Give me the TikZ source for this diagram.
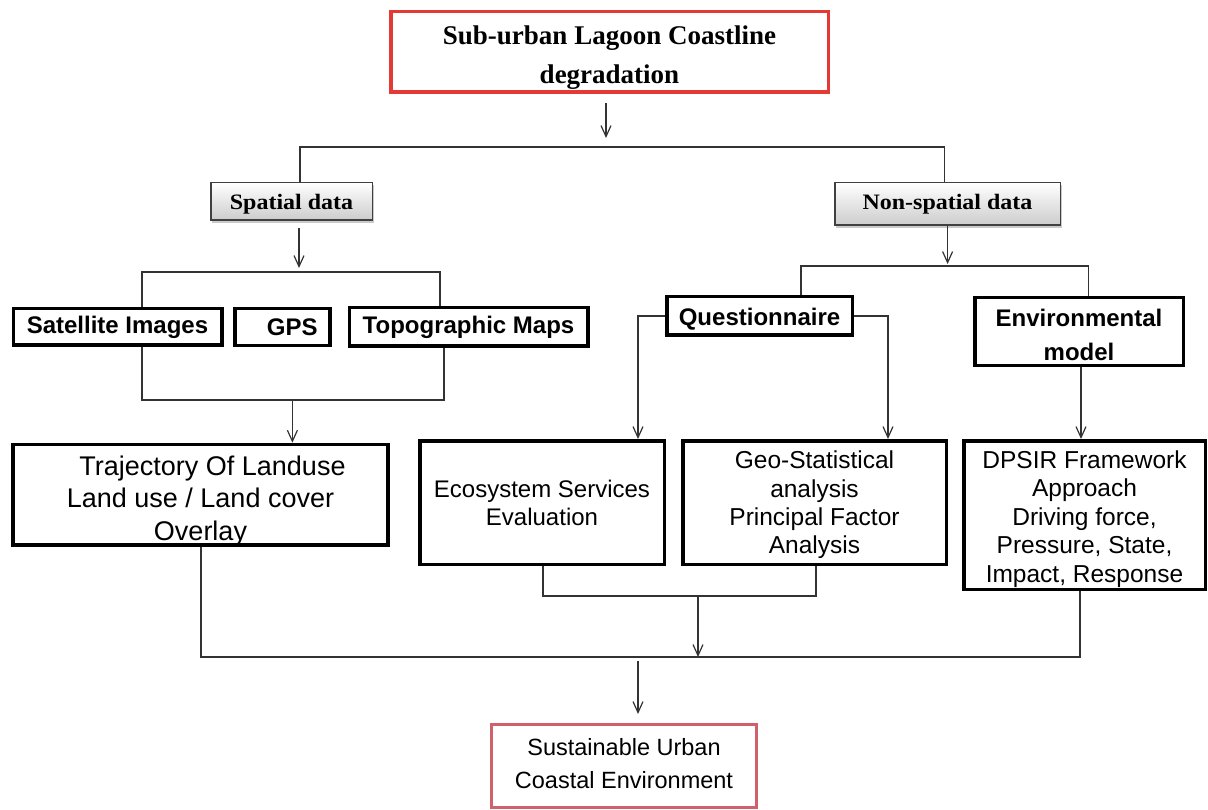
\documentclass[tikz,border=0pt]{standalone}
\usepackage{fontspec}
\setmainfont{Liberation Sans}
\newfontfamily\titlefont{Liberation Serif}
\newfontfamily\subtitlefont[FakeStretch=1.09]{Liberation Serif}
\usetikzlibrary{arrows.meta,shadows}
\definecolor{topred}{HTML}{E53935}
\definecolor{botred}{HTML}{D0606A}
\begin{document}
\begin{tikzpicture}[x=1pt,y=-1pt,
  conn/.style={line width=1.2pt,draw=black!80},
  arr/.style={conn,-{Straight Barb[length=11pt,width=10pt,line width=1.2pt]}},
  boxbase/.style={rectangle,inner sep=0pt,align=center,text=black},
  redbox/.style={boxbase,draw=topred,line width=3.5pt},
  endbox/.style={boxbase,draw=botred,line width=3pt,font={\fontsize{23.5}{33}\selectfont}},
  greybox/.style={boxbase,draw=black!75,line width=1.5pt,top color=white,bottom color=black!20,
     drop shadow={shadow xshift=1.5pt,shadow yshift=-2.5pt,opacity=.35,fill=black!60},
     font={\subtitlefont\bfseries\fontsize{22}{26}\selectfont}},
  heavybox/.style={boxbase,draw=black,line width=3.5pt,font={\bfseries\fontsize{24}{34}\selectfont}},
  textbox/.style={boxbase,draw=black,line width=3.5pt,font={\fontsize{24.5}{28.4}\selectfont}},
  inlabel/.style={align=center,inner sep=0pt,text=black}
]
\useasboundingbox (0,0) rectangle (1208,810);

% nodes
\node[redbox,minimum width=437.5,minimum height=80.5,
  label={[inlabel,yshift=-6pt,font={\titlefont\bfseries\fontsize{27}{39}\selectfont}]center:Sub-urban Lagoon Coastline\\degradation}]
  (top) at (609.5,52) {};
\node[greybox,minimum width=161.5,minimum height=37.5,
  label={[inlabel,yshift=-3pt,font={\subtitlefont\bfseries\fontsize{22}{26}\selectfont}]center:Spatial data}]
  (spatial) at (291.5,201.5) {};
\node[greybox,minimum width=225.5,minimum height=42.5] (nonspatial) at (947.5,204) {Non-spatial data};

\node[heavybox,minimum width=208.5,minimum height=36.5] (sat) at (117.5,327) {Satellite Images};
\node[heavybox,minimum width=95,minimum height=37] (gps) at (282.25,327.25) {\hspace*{20pt}GPS};
\node[heavybox,minimum width=238.5,minimum height=38.5] (topo) at (468.5,327) {Topographic Maps};

\node[textbox,minimum width=374.6,minimum height=100.5,
  label={[inlabel,yshift=-6pt,font={\fontsize{27}{32.5}\selectfont}]center:\hspace*{24pt}Trajectory Of Landuse\\Land use / Land cover\\Overlay}]
  (traj) at (200.5,494.7) {};

\node[heavybox,minimum width=185.5,minimum height=38.5,
  label={[inlabel,yshift=-3pt,font={\bfseries\fontsize{24}{34}\selectfont}]center:Questionnaire}]
  (quest) at (759.5,316) {};
\node[heavybox,minimum width=208.5,minimum height=68,
  label={[inlabel,yshift=-3pt,font={\bfseries\fontsize{24}{34}\selectfont}]center:Environmental\\model}]
  (env) at (1079,331.75) {};

\node[textbox,minimum width=244.5,minimum height=123.5,font={\fontsize{24}{28}\selectfont}]
  (eco) at (542,502.5) {Ecosystem Services\\Evaluation};
\node[textbox,minimum width=263.5,minimum height=123.5,
  label={[inlabel,yshift=-2.5pt,font={\fontsize{24.5}{28.4}\selectfont}]center:Geo-Statistical\\analysis\\Principal Factor\\Analysis}]
  (geo) at (814.5,502.5) {};
\node[textbox,minimum width=241.5,minimum height=148.5,
  label={[inlabel,yshift=-4pt,font={\fontsize{24.5}{28.4}\selectfont}]center:DPSIR Framework\\Approach\\Driving force,\\Pressure, State,\\Impact, Response}]
  (dpsir) at (1084.5,515) {};

\node[endbox,minimum width=265,minimum height=83,
  label={[inlabel,yshift=2.5pt,font={\fontsize{23.5}{33}\selectfont}]center:Sustainable Urban\\Coastal Environment}]
  (final) at (624,766) {};

% junction coordinates
\coordinate (a0s) at (606,103);
\coordinate (a0e) at (606,138);
\coordinate (j1L) at (300,147);
\coordinate (j1R) at (944.5,147);
\coordinate (s2) at (299,268);
\coordinate (j2L) at (142,272);
\coordinate (j2R) at (440,272);
\coordinate (j3L) at (142,400);
\coordinate (j3R) at (444,400);
\coordinate (j3M) at (292.4,400);
\coordinate (j4L) at (801,266);
\coordinate (j4R) at (1088.6,266);
\coordinate (j4M) at (947.6,264);
\coordinate (q1) at (638,316);
\coordinate (q2) at (888,316);
\coordinate (e1) at (1081,367);
\coordinate (j5L) at (543,596);
\coordinate (j5R) at (816,596);
\coordinate (j5M) at (698,596);
\coordinate (j6L) at (201,657);
\coordinate (j6R) at (1080,657);
\coordinate (j6M) at (698,657);
\coordinate (f0) at (638,661);
\coordinate (f1) at (638,714);

% connectors
\draw[arr] (a0s) -- (a0e);
\draw[conn] (j1L |- spatial.north) -- (j1L) -- (j1R) -- (j1R |- nonspatial.north);
\draw[arr,shorten <=7pt] (s2 |- spatial.south) -- (s2);
\draw[conn] (j2L |- sat.north) -- (j2L) -- (j2R) -- (j2R |- topo.north);
\draw[conn] (j3L |- sat.south) -- (j3L) -- (j3R) -- (j3R |- topo.south);
\draw[arr] (j3M) -- (j3M |- traj.north);

\draw[arr] (j4M |- nonspatial.south) -- (j4M);
\draw[conn] (j4L |- quest.north) -- (j4L) -- (j4R) -- (j4R |- env.north);
\draw[arr] (quest.west) -| (q1 |- eco.north);
\draw[arr] (quest.east) -| (q2 |- geo.north);
\draw[arr] (e1 |- env.south) -- (e1 |- dpsir.north);

\draw[conn] (j5L |- eco.south) -- (j5L) -- (j5R) -- (j5R |- geo.south);
\draw[arr] (j5M) -- (j6M);
\draw[conn] (j6L |- traj.south) -- (j6L) -- (j6R) -- (j6R |- dpsir.south);
\draw[arr] (f0) -- (f1);
\end{tikzpicture}
\end{document}
